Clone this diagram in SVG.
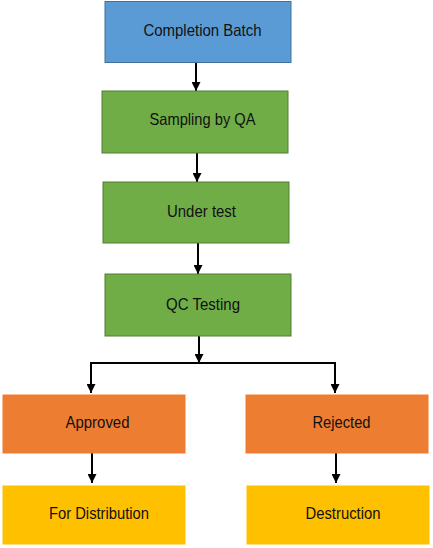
<svg xmlns="http://www.w3.org/2000/svg" width="433" height="548" viewBox="0 0 433 548">
<style>
.t{font-family:"Liberation Sans",Arial,sans-serif;font-size:16.5px;fill:#111;text-anchor:middle}
.blue{fill:#5B9BD5;stroke:#41719C;stroke-width:1}
.green{fill:#70AD47;stroke:#507E32;stroke-width:1}
.orange{fill:#ED7D31;stroke:#ED7D31;stroke-width:1}
.yellow{fill:#FFC000;stroke:#FFC000;stroke-width:1}
.c{fill:none;stroke:#000;stroke-width:2}
</style>
<defs>
<marker id="ah" viewBox="0 0 10 10" refX="10" refY="5" markerWidth="4.5" markerHeight="4.5" orient="auto" markerUnits="strokeWidth">
<path d="M0,0 L10,5 L0,10 z" fill="#000"/>
</marker>
</defs>
<rect width="433" height="548" fill="#fff"/>
<g id="connectors">
<line class="c" x1="196" y1="63" x2="196" y2="91" marker-end="url(#ah)"/>
<line class="c" x1="197" y1="153" x2="197" y2="182" marker-end="url(#ah)"/>
<line class="c" x1="198" y1="243" x2="198" y2="274" marker-end="url(#ah)"/>
<line class="c" x1="199" y1="336" x2="199" y2="363" marker-end="url(#ah)"/>
<polyline class="c" points="91,393 91,363 335,363 335,393" marker-end="url(#ah)"/>
<line class="c" x1="91" y1="370" x2="91" y2="393" marker-end="url(#ah)"/>
<line class="c" x1="92" y1="453" x2="92" y2="483" marker-end="url(#ah)"/>
<line class="c" x1="336" y1="453" x2="336" y2="483" marker-end="url(#ah)"/>
</g>
<g id="completion-batch">
<rect class="blue" x="105" y="1.5" width="186" height="61"/>
<text class="t" x="202.5" y="36" textLength="118" lengthAdjust="spacingAndGlyphs">Completion Batch</text>
</g>
<g id="sampling-by-qa">
<rect class="green" x="102" y="91" width="186" height="62"/>
<text class="t" x="202.5" y="125" textLength="106" lengthAdjust="spacingAndGlyphs">Sampling by QA</text>
</g>
<g id="under-test">
<rect class="green" x="103" y="182" width="186" height="61"/>
<text class="t" x="201.5" y="217" textLength="69" lengthAdjust="spacingAndGlyphs">Under test</text>
</g>
<g id="qc-testing">
<rect class="green" x="105" y="274" width="186" height="62"/>
<text class="t" x="203" y="310" textLength="74" lengthAdjust="spacingAndGlyphs">QC Testing</text>
</g>
<g id="approved">
<rect class="orange" x="3" y="395" width="182" height="58"/>
<text class="t" x="97.5" y="428" textLength="64" lengthAdjust="spacingAndGlyphs">Approved</text>
</g>
<g id="rejected">
<rect class="orange" x="246" y="395" width="182" height="58"/>
<text class="t" x="341.5" y="428" textLength="58" lengthAdjust="spacingAndGlyphs">Rejected</text>
</g>
<g id="for-distribution">
<rect class="yellow" x="3" y="486" width="182" height="58"/>
<text class="t" x="99" y="519" textLength="100" lengthAdjust="spacingAndGlyphs">For Distribution</text>
</g>
<g id="destruction">
<rect class="yellow" x="247" y="486" width="182" height="58"/>
<text class="t" x="343" y="519" textLength="75" lengthAdjust="spacingAndGlyphs">Destruction</text>
</g>
</svg>
